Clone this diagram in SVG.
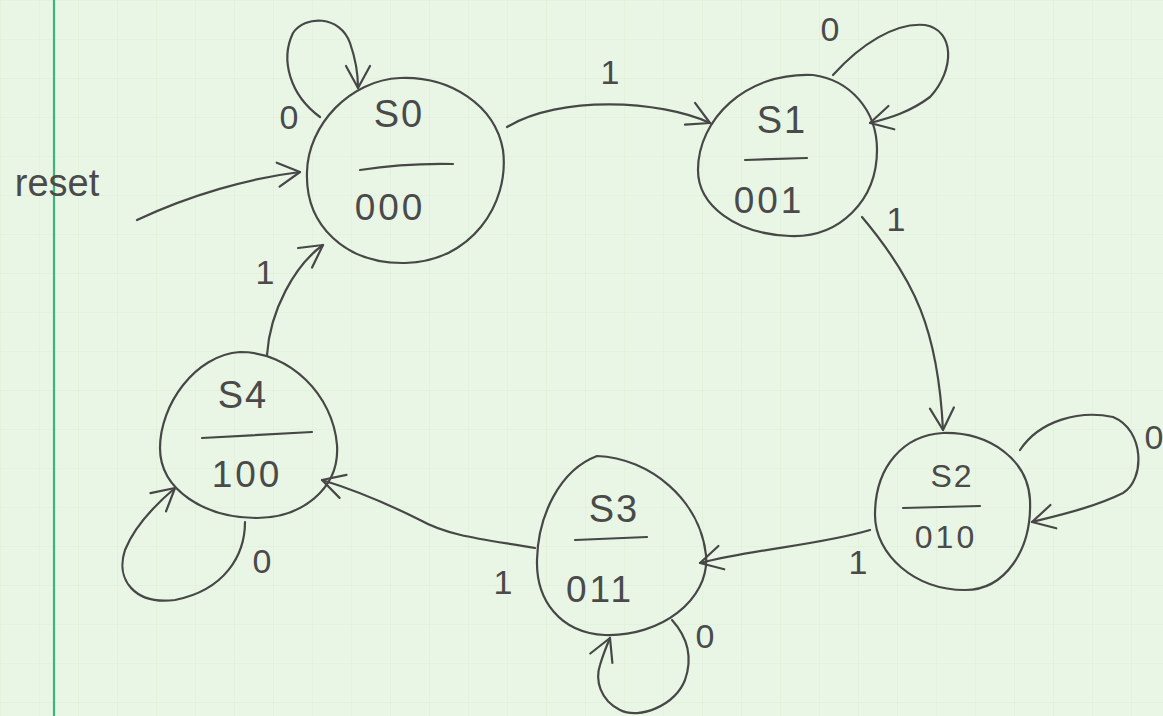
<svg xmlns="http://www.w3.org/2000/svg" width="1163" height="716" viewBox="0 0 1163 716">
  <defs>
    <pattern id="grid" x="0" y="0" width="39" height="39" patternUnits="userSpaceOnUse">
      <path d="M 39,0 L 0,0 L 0,39" fill="none" stroke="#dbeed5" stroke-width="1"/>
    </pattern>
    <marker id="arr" viewBox="-26 -15 30 30" refX="0" refY="0" markerWidth="30" markerHeight="30" markerUnits="userSpaceOnUse" orient="auto">
      <path d="M -22,-12 L 0,0 L -22,12" fill="none" stroke="#474747" stroke-width="2.2" stroke-linecap="round" stroke-linejoin="round"/>
    </marker>
  </defs>
  <style>
    .ink { fill: none; stroke: #474747; stroke-width: 2.2; stroke-linecap: round; stroke-linejoin: round; }
    .edge { fill: none; stroke: #474747; stroke-width: 2.2; stroke-linecap: round; marker-end: url(#arr); }
    .name { font-family: "Liberation Sans", Arial, sans-serif; font-size: 38px; fill: #4a4a4a; text-anchor: middle; letter-spacing: 2px; }
    .out { font-family: "Liberation Sans", Arial, sans-serif; font-size: 37px; fill: #4a4a4a; text-anchor: middle; letter-spacing: 3px; }
    .lbl { font-family: "Liberation Sans", Arial, sans-serif; font-size: 34px; fill: #4a4a4a; text-anchor: middle; }
  </style>

  <!-- paper -->
  <rect x="0" y="0" width="1163" height="716" fill="#e9f6e5"/>
  <rect x="0" y="0" width="1163" height="716" fill="url(#grid)"/>
  <line x1="54" y1="0" x2="54" y2="716" stroke="#3bb57e" stroke-width="2.2"/>

  <!-- transitions -->
  <g id="connectors">
    <path class="edge" d="M 137,220 C 190,195 250,178 300,172"/>
    <text class="lbl" x="57" y="196" style="font-size:38px">reset</text>

    <path class="edge" d="M 320,117 C 290,95 280,60 293,33 C 305,15 340,15 350,43 C 356,60 358,75 358,88"/>
    <text class="lbl" x="289" y="129">0</text>

    <path class="edge" d="M 507,127 C 560,95 660,100 710,123"/>
    <text class="lbl" x="610" y="84">1</text>

    <path class="edge" d="M 833,75 C 860,45 895,22 925,25 C 955,30 955,70 930,97 C 910,112 890,118 870,123"/>
    <text class="lbl" x="830" y="41">0</text>

    <path class="edge" d="M 862,217 C 915,280 938,330 943,430"/>
    <text class="lbl" x="896" y="231">1</text>

    <path class="edge" d="M 1020,450 C 1040,420 1080,410 1113,417 C 1145,430 1145,480 1123,493 C 1095,507 1060,515 1032,522"/>
    <text class="lbl" x="1154" y="449">0</text>

    <path class="edge" d="M 870,530 C 820,545 760,548 700,563"/>
    <text class="lbl" x="858" y="574">1</text>

    <path class="edge" d="M 672,620 C 690,640 692,660 685,680 C 675,705 640,720 620,710 C 600,700 595,680 600,665 C 603,655 607,645 610,638"/>
    <text class="lbl" x="705" y="648">0</text>

    <path class="edge" d="M 535,548 C 490,540 450,537 420,520 C 390,505 355,490 322,480"/>
    <text class="lbl" x="503" y="594">1</text>

    <path class="edge" d="M 245,522 C 245,555 225,590 175,600 C 135,605 115,580 125,550 C 135,525 155,505 175,488"/>
    <text class="lbl" x="262" y="573">0</text>

    <path class="edge" d="M 267,355 C 270,310 295,265 323,245"/>
    <text class="lbl" x="265" y="284">1</text>
  </g>

  <!-- states -->
  <g id="S0">
    <path class="ink" d="M 400,78 C 450,76 495,105 503,150 C 510,205 470,262 405,263 C 345,264 305,225 307,172 C 308,125 350,80 400,78 Z"/>
    <text class="name" x="399" y="127">S0</text>
    <path class="ink" d="M 360,170 Q 405,163 453,164"/>
    <text class="out" x="390" y="220">000</text>
  </g>

  <g id="S1">
    <path class="ink" d="M 813,75 C 850,80 877,110 877,150 C 877,200 840,238 790,236 C 735,234 698,205 698,170 C 698,120 745,72 813,75 Z"/>
    <text class="name" x="782" y="133">S1</text>
    <path class="ink" d="M 745,160 L 807,158"/>
    <text class="out" x="769" y="213">001</text>
  </g>

  <g id="S2">
    <path class="ink" d="M 943,433 C 990,432 1028,460 1030,500 C 1032,550 1005,590 965,590 C 915,590 875,555 875,515 C 875,465 905,435 943,433 Z"/>
    <text class="name" x="952" y="487" style="font-size:32px">S2</text>
    <path class="ink" d="M 903,508 L 980,506"/>
    <text class="out" x="946" y="548" style="font-size:32px">010</text>
  </g>

  <g id="S3">
    <path class="ink" d="M 597,456 C 650,458 700,500 706,555 C 710,600 660,637 605,635 C 560,633 536,600 537,560 C 538,515 560,470 597,456 Z"/>
    <text class="name" x="614" y="522">S3</text>
    <path class="ink" d="M 575,540 L 647,537"/>
    <text class="out" x="600" y="602">011</text>
  </g>

  <g id="S4">
    <path class="ink" d="M 240,352 C 290,352 333,395 337,445 C 340,490 300,518 257,518 C 205,518 160,490 160,448 C 160,405 195,355 240,352 Z"/>
    <text class="name" x="243" y="408">S4</text>
    <path class="ink" d="M 202,438 L 312,432"/>
    <text class="out" x="247" y="487">100</text>
  </g>
</svg>
